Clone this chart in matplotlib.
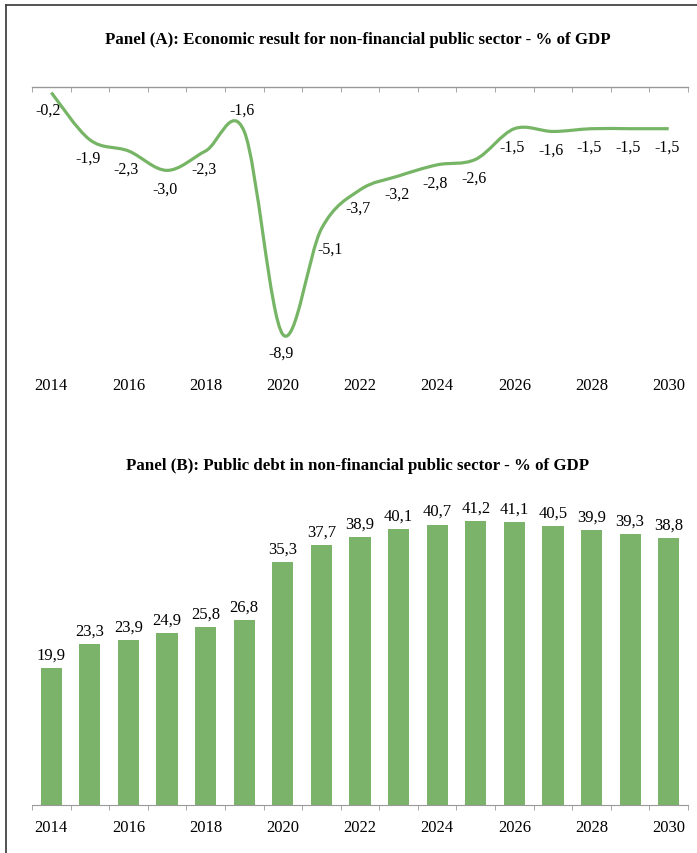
import numpy as np
import matplotlib
matplotlib.use("Agg")
from matplotlib import pyplot as plt
from matplotlib.path import Path
from matplotlib.patches import PathPatch
from matplotlib.lines import Line2D

years = list(range(2014, 2031))
result = [-0.2, -1.9, -2.3, -3.0, -2.3, -1.6, -8.9, -5.1, -3.7, -3.2, -2.8, -2.6,
          -1.5, -1.6, -1.5, -1.5, -1.5]
debt = [19.9, 23.3, 23.9, 24.9, 25.8, 26.8, 35.3, 37.7, 38.9, 40.1, 40.7, 41.2,
        41.1, 40.5, 39.9, 39.3, 38.8]

title_a = "Panel (A): Economic result for non-financial public sector - % of GDP"
title_b = "Panel (B): Public debt in non-financial public sector - % of GDP"

green_line = "#77b566"
green_bar = "#7bb36a"
font = "Liberation Serif"
plt.rcParams["font.family"] = font

W, H = 697, 854
fig = plt.figure(figsize=(W / 100, H / 100), dpi=100)

def px_ax(x0, y0, x1, y1):
    # pixel box (top-left origin) -> figure axes
    return fig.add_axes([x0 / W, 1 - y1 / H, (x1 - x0) / W, (y1 - y0) / H])

def fmt(v):
    return f"{v:.1f}".replace(".", ",")

n = len(years)
x = np.arange(n)

# ---------- Panel A ----------
ax1 = px_ax(32, 88, 688, 366)
ax1.set_xlim(-0.5, n - 0.5)
ax1.set_ylim(-10, 0)

# smoothed line (excel style bezier)
pts = np.column_stack([x, result]).astype(float)
verts = [tuple(pts[0])]
codes = [Path.MOVETO]
for i in range(n - 1):
    p0 = pts[i - 1] if i > 0 else pts[i]
    p1 = pts[i]
    p2 = pts[i + 1]
    p3 = pts[i + 2] if i + 2 < n else pts[i + 1]
    c1 = p1 + (p2 - p0) / 6
    c2 = p2 - (p3 - p1) / 6
    verts += [tuple(c1), tuple(c2), tuple(p2)]
    codes += [Path.CURVE4] * 3
ax1.add_patch(PathPatch(Path(verts, codes), facecolor="none", edgecolor=green_line,
                        lw=2.3, capstyle="butt", clip_on=False))

# label offsets in pixels (dx, dy up positive)
offs = {5: (-2, 22), 7: (9, -20)}
for i, v in enumerate(result):
    dx, dy = offs.get(i, (-2, -18))
    if i == 0:
        dx, dy = (-3, -17)
    ax1.annotate(fmt(v), (i, v), xytext=(dx * 0.72, dy * 0.72), textcoords="offset points",
                 ha="center", va="center", fontsize=11.5)

for s in ["left", "right", "bottom"]:
    ax1.spines[s].set_visible(False)
ax1.spines["top"].set_color("#999999")
ax1.spines["top"].set_linewidth(1)
ax1.set_yticks([])
ax1.set_xticks(x[::2])
ax1.set_xticklabels([str(y) for y in years[::2]], fontsize=12)
ax1.set_xticks(np.arange(-0.5, n, 1), minor=True)
ax1.tick_params(axis="x", which="major", length=0, pad=8.5)
ax1.tick_params(axis="x", which="minor", bottom=False, top=True, direction="in",
                length=3.5, color="#999999")

fig.text(358 / W, 1 - 40 / H, title_a, ha="center", va="center", fontsize=12.2,
         fontweight="bold")

# ---------- Panel B ----------
ax2 = px_ax(32, 496, 688, 806)
ax2.set_xlim(-0.5, n - 0.5)
ax2.set_ylim(0, 45)
bars = ax2.bar(x, debt, width=0.55, color=green_bar)
for b, v in zip(bars, debt):
    ax2.annotate(fmt(v), (b.get_x() + b.get_width() / 2, v), xytext=(0, 4),
                 textcoords="offset points", ha="center", va="bottom", fontsize=12)

for s in ["left", "right", "top"]:
    ax2.spines[s].set_visible(False)
ax2.spines["bottom"].set_color("#999999")
ax2.set_yticks([])
ax2.set_xticks(x[::2])
ax2.set_xticklabels([str(y) for y in years[::2]], fontsize=12)
ax2.set_xticks(np.arange(-0.5, n, 1), minor=True)
ax2.tick_params(axis="x", which="major", length=0, pad=10)
ax2.tick_params(axis="x", which="minor", direction="out", length=3.5, color="#999999")

fig.text(358 / W, 1 - 466 / H, title_b, ha="center", va="center", fontsize=12.2,
         fontweight="bold")

# outer frame (only top and left visible)
fig.add_artist(Line2D([6 / W, 6 / W], [0, 1 - 6 / H], transform=fig.transFigure,
                      color="#444444", lw=1.3))
fig.add_artist(Line2D([6 / W, 1], [1 - 6 / H, 1 - 6 / H], transform=fig.transFigure,
                      color="#444444", lw=1.3))

fig.savefig("out.png", dpi=100)
